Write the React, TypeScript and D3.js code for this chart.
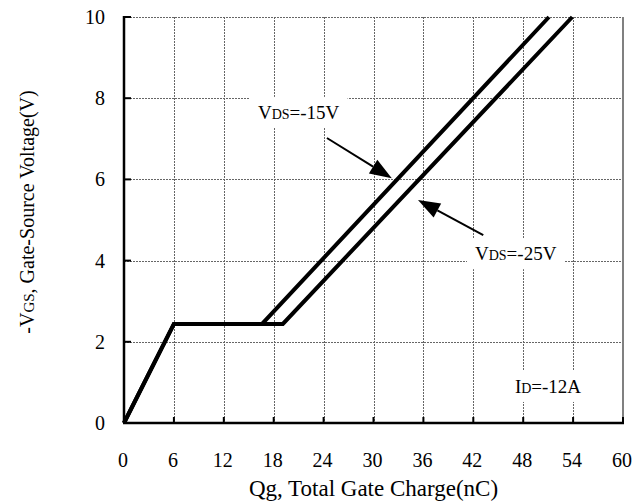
import React, { useEffect, useRef } from "react";
import * as d3 from "d3";

// gate charge curves (Qg nC, -VGS V)
const vds15Q = [0, 6, 16.6, 51.1];
const vds15V = [0, 2.44, 2.44, 10];
const vds25Q = [0, 6, 19.1, 53.9];
const vds25V = [0, 2.44, 2.44, 10];

const xTicks = [0, 6, 12, 18, 24, 30, 36, 42, 48, 54, 60];
const yTicks = [0, 2, 4, 6, 8, 10];

// annotations: label start / baseline, arrow from / tip
const labelNames = ["VDS=-15V", "VDS=-25V", "ID=-12A"];
const labelQ = [16.1, 42.2, 47.0];
const labelV = [7.49, 4.01, 0.74];
const arrowFromQ = [24.4, 43.2];
const arrowFromV = [7.02, 4.63];
const arrowTipQ = [32.2, 35.35];
const arrowTipV = [6.03, 5.49];

const FONT = "'Liberation Serif', 'Times New Roman', serif";

const App = () => {
  const svgRef = useRef<SVGSVGElement>(null);

  useEffect(() => {
    const svg = d3.select(svgRef.current);
    svg.selectAll("*").remove();

    const width = 636;
    const height = 501;
    const margin = { top: 17, right: 13, bottom: 78, left: 124 };
    const innerWidth = width - margin.left - margin.right;
    const innerHeight = height - margin.top - margin.bottom;

    const x = d3.scaleLinear().domain([0, 60]).range([0, innerWidth]);
    const y = d3.scaleLinear().domain([0, 10]).range([innerHeight, 0]);

    const g = svg.append("g")
      .attr("transform", `translate(${margin.left},${margin.top})`);

    // grid (dotted)
    const gridColor = "#666";
    g.selectAll(".vgrid")
      .data(xTicks.filter(d => d > 0 && d < 60))
      .join("line")
      .attr("class", "vgrid")
      .attr("x1", d => Math.round(x(d)) + 0.5).attr("x2", d => Math.round(x(d)) + 0.5)
      .attr("y1", 0).attr("y2", innerHeight)
      .attr("stroke", gridColor)
      .attr("stroke-width", 1)
      .attr("stroke-dasharray", "2,1");

    g.selectAll(".hgrid")
      .data(yTicks.filter(d => d > 0))
      .join("line")
      .attr("class", "hgrid")
      .attr("x1", 0).attr("x2", innerWidth)
      .attr("y1", d => Math.round(y(d)) + 0.5).attr("y2", d => Math.round(y(d)) + 0.5)
      .attr("stroke", gridColor)
      .attr("stroke-width", 1)
      .attr("stroke-dasharray", "2,1");

    // right border
    g.append("line")
      .attr("x1", innerWidth).attr("x2", innerWidth)
      .attr("y1", 0).attr("y2", innerHeight)
      .attr("stroke", "#808080")
      .attr("stroke-width", 2);

    // curves
    const line = d3.line<[number, number]>()
      .x(d => x(d[0]))
      .y(d => y(d[1]));

    const series = [
      d3.zip(vds25Q, vds25V) as [number, number][],
      d3.zip(vds15Q, vds15V) as [number, number][],
    ];
    g.selectAll(".curve")
      .data(series)
      .join("path")
      .attr("class", "curve")
      .attr("fill", "none")
      .attr("stroke", "#000")
      .attr("stroke-width", 4)
      .attr("d", d => line(d));

    // labels with white boxes
    labelNames.forEach((name, i) => {
      const lg = g.append("g");
      const rect = lg.append("rect").attr("fill", "#fff");
      const t = lg.append("text")
        .attr("x", x(labelQ[i]))
        .attr("y", y(labelV[i]))
        .attr("font-family", FONT)
        .attr("font-size", 19)
        .attr("fill", "#000");
      const eq = name.indexOf("=");
      t.append("tspan").text(name.slice(0, 1));
      t.append("tspan").attr("font-size", 14).text(name.slice(1, eq));
      t.append("tspan").text(name.slice(eq));
      const bb = (t.node() as SVGTextElement).getBBox();
      rect
        .attr("x", bb.x - 8)
        .attr("y", bb.y - 5)
        .attr("width", bb.width + 16)
        .attr("height", bb.height + 10);
    });

    // arrows
    arrowFromQ.forEach((_, i) => {
      const x1 = x(arrowFromQ[i]), y1 = y(arrowFromV[i]);
      const x2 = x(arrowTipQ[i]), y2 = y(arrowTipV[i]);
      const ang = Math.atan2(y2 - y1, x2 - x1);
      const len = 22, hw = 8;
      const bx = x2 - len * Math.cos(ang), by = y2 - len * Math.sin(ang);
      g.append("line")
        .attr("x1", x1).attr("y1", y1)
        .attr("x2", bx).attr("y2", by)
        .attr("stroke", "#000")
        .attr("stroke-width", 2);
      const px = -Math.sin(ang) * hw, py = Math.cos(ang) * hw;
      g.append("path")
        .attr("d", `M${x2},${y2}L${bx + px},${by + py}L${bx - px},${by - py}Z`)
        .attr("fill", "#000");
    });

    // axes
    g.append("line")
      .attr("x1", 0).attr("x2", 0)
      .attr("y1", -1).attr("y2", innerHeight)
      .attr("stroke", "#000").attr("stroke-width", 2.5);
    g.append("line")
      .attr("x1", -1).attr("x2", innerWidth + 1)
      .attr("y1", innerHeight).attr("y2", innerHeight)
      .attr("stroke", "#000").attr("stroke-width", 2.5);

    g.selectAll(".xtick")
      .data(xTicks.filter(d => d > 0))
      .join("line")
      .attr("class", "xtick")
      .attr("x1", d => x(d)).attr("x2", d => x(d))
      .attr("y1", innerHeight).attr("y2", innerHeight - 6)
      .attr("stroke", "#000").attr("stroke-width", 2);

    g.selectAll(".ytick")
      .data(yTicks.filter(d => d > 0))
      .join("line")
      .attr("class", "ytick")
      .attr("x1", 0).attr("x2", 7)
      .attr("y1", d => y(d)).attr("y2", d => y(d))
      .attr("stroke", "#000").attr("stroke-width", 2);

    g.selectAll(".xlabel")
      .data(xTicks)
      .join("text")
      .attr("class", "xlabel")
      .attr("x", d => x(d) - 1)
      .attr("y", innerHeight + 44)
      .attr("text-anchor", "middle")
      .attr("font-family", FONT)
      .attr("font-size", 20)
      .text(d => d);

    g.selectAll(".ylabel")
      .data(yTicks)
      .join("text")
      .attr("class", "ylabel")
      .attr("x", -19)
      .attr("y", d => y(d) + 7)
      .attr("text-anchor", "end")
      .attr("font-family", FONT)
      .attr("font-size", 20)
      .text(d => d);

    // axis titles
    g.append("text")
      .attr("x", innerWidth / 2)
      .attr("y", innerHeight + 73)
      .attr("text-anchor", "middle")
      .attr("font-family", FONT)
      .attr("font-size", 23)
      .text("Qg, Total Gate Charge(nC)");

    const yt = g.append("text")
      .attr("transform", `translate(${-margin.left + 34},${innerHeight / 2 - 8}) rotate(-90)`)
      .attr("text-anchor", "middle")
      .attr("font-family", FONT)
      .attr("font-size", 20);
    yt.append("tspan").text("-V");
    yt.append("tspan").attr("font-size", 15).text("GS");
    yt.append("tspan").text(", Gate-Source Voltage(V)");
  }, []);

  return (
    <svg
      ref={svgRef}
      width={636}
      height={501}
      style={{ position: "absolute", left: 0, top: 0, background: "#fff" }}
    />
  );
};

export default App;
